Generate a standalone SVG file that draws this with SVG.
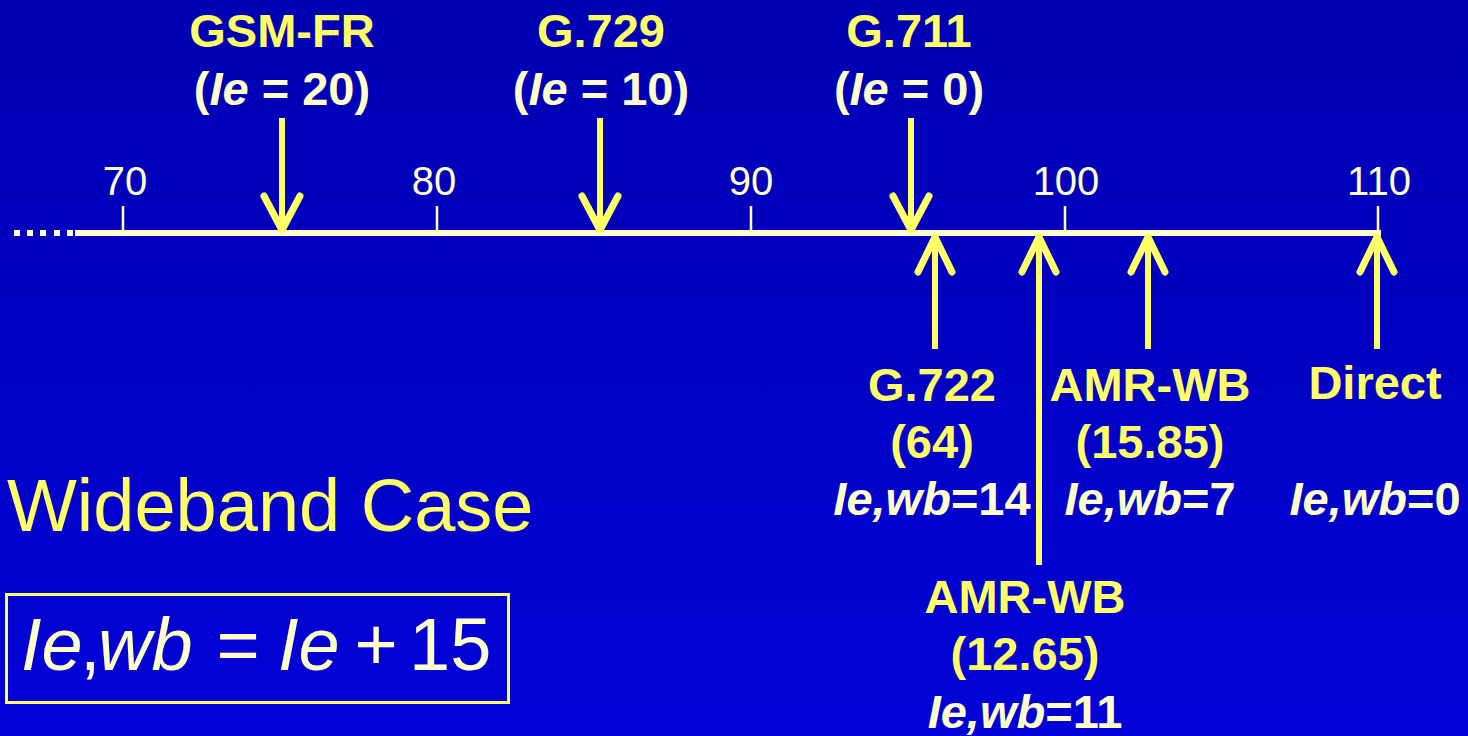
<svg xmlns="http://www.w3.org/2000/svg" width="1468" height="736" viewBox="0 0 1468 736">
  <defs>
    <linearGradient id="bg" x1="0" y1="0" x2="0" y2="1">
      <stop offset="0" stop-color="#0000B2"/>
      <stop offset="1" stop-color="#0303D8"/>
    </linearGradient>
  </defs>
  <style>
    .lbl{font-family:"Liberation Sans",Arial,sans-serif;font-weight:bold;font-size:47px;fill:#FFFF66;text-anchor:middle}
    .cr{fill:#FFFFCC}
    .it{font-style:italic}
    .tick{font-family:"Liberation Sans",Arial,sans-serif;font-size:40px;fill:#FFFFCC;text-anchor:middle}
    .arr{stroke:#FFFF66;stroke-width:6;fill:none}
    .head{stroke:#FFFF66;stroke-width:7;fill:none;stroke-linecap:round;stroke-linejoin:round}
    .axis{stroke:#FFFFCC;fill:none}
    .big{font-family:"Liberation Sans",Arial,sans-serif;font-size:74px;fill:#FFFF66}
    .fm{font-family:"Liberation Sans",Arial,sans-serif;font-size:74px;fill:#FFFFCC}
  </style>
  <rect x="0" y="0" width="1468" height="736" fill="url(#bg)"/>

  <g id="axis">
    <g fill="#FFFFCC">
      <rect x="14" y="230" width="6" height="6"/>
      <rect x="27" y="230" width="6" height="6"/>
      <rect x="40" y="230" width="6" height="6"/>
      <rect x="54" y="230" width="6" height="6"/>
      <rect x="67" y="230" width="6" height="6"/>
    </g>
    <line class="axis" x1="75" y1="233" x2="1381" y2="233" stroke-width="6"/>
    <line class="axis" x1="123" y1="206" x2="123" y2="231" stroke-width="2.5"/>
    <line class="axis" x1="437" y1="206" x2="437" y2="231" stroke-width="2.5"/>
    <line class="axis" x1="751" y1="206" x2="751" y2="231" stroke-width="2.5"/>
    <line class="axis" x1="1065" y1="206" x2="1065" y2="231" stroke-width="2.5"/>
    <line class="axis" x1="1378" y1="206" x2="1378" y2="231" stroke-width="2.5"/>
    <text class="tick" x="125" y="195">70</text>
    <text class="tick" x="434" y="195">80</text>
    <text class="tick" x="751" y="195">90</text>
    <text class="tick" x="1066" y="195">100</text>
    <text class="tick" x="1379" y="195">110</text>
  </g>

  <g id="connectors">
    <line class="arr" x1="282" y1="118" x2="282" y2="228"/>
    <polyline class="head" points="264,196 282,230 300,196"/>
    <line class="arr" x1="600" y1="118" x2="600" y2="228"/>
    <polyline class="head" points="582,196 600,230 618,196"/>
    <line class="arr" x1="911" y1="118" x2="911" y2="228"/>
    <polyline class="head" points="893,196 911,230 929,196"/>

    <line class="arr" x1="935" y1="240" x2="935" y2="349"/>
    <polyline class="head" points="918,272 935,237 952,272"/>
    <line class="arr" x1="1039" y1="240" x2="1039" y2="565"/>
    <polyline class="head" points="1022,272 1039,237 1056,272"/>
    <line class="arr" x1="1148" y1="240" x2="1148" y2="349"/>
    <polyline class="head" points="1131,272 1148,237 1165,272"/>
    <line class="arr" x1="1377" y1="240" x2="1377" y2="349"/>
    <polyline class="head" points="1360,272 1377,237 1394,272"/>
  </g>

  <g id="gsm-fr">
    <text class="lbl" x="282" y="47">GSM-FR</text>
    <text class="lbl cr" x="282" y="105">(<tspan class="it">Ie</tspan> = 20)</text>
  </g>
  <g id="g729">
    <text class="lbl" x="601" y="47">G.729</text>
    <text class="lbl cr" x="601" y="105">(<tspan class="it">Ie</tspan> = 10)</text>
  </g>
  <g id="g711">
    <text class="lbl" x="909" y="47">G.711</text>
    <text class="lbl cr" x="909" y="105">(<tspan class="it">Ie</tspan> = 0)</text>
  </g>

  <g id="g722">
    <text class="lbl" x="932" y="401">G.722</text>
    <text class="lbl" x="932" y="458">(64)</text>
    <text class="lbl cr" x="932" y="515"><tspan class="it">Ie,wb</tspan>=14</text>
  </g>
  <g id="amrwb-1585">
    <text class="lbl" x="1150" y="401">AMR-WB</text>
    <text class="lbl" x="1150" y="458">(15.85)</text>
    <text class="lbl cr" x="1150" y="515"><tspan class="it">Ie,wb</tspan>=7</text>
  </g>
  <g id="direct">
    <text class="lbl" x="1375" y="399">Direct</text>
    <text class="lbl cr" x="1375" y="515"><tspan class="it">Ie,wb</tspan>=0</text>
  </g>
  <g id="amrwb-1265">
    <text class="lbl" x="1025" y="613">AMR-WB</text>
    <text class="lbl" x="1025" y="670">(12.65)</text>
    <text class="lbl cr" x="1025" y="728"><tspan class="it">Ie,wb</tspan>=11</text>
  </g>

  <g id="title">
    <text class="big" x="7" y="531">Wideband Case</text>
  </g>

  <g id="formula">
    <rect x="6.5" y="594.5" width="502" height="108" fill="none" stroke="#FFFF66" stroke-width="3"/>
    <text class="fm"><tspan class="it" x="21" y="670">Ie</tspan><tspan x="80" y="670">,</tspan><tspan class="it" x="98" y="670">wb</tspan><tspan x="238" y="670" text-anchor="middle">=</tspan><tspan class="it" x="278" y="670">Ie</tspan><tspan x="376" y="670" text-anchor="middle">+</tspan><tspan x="409" y="670">15</tspan></text>
  </g>
</svg>
